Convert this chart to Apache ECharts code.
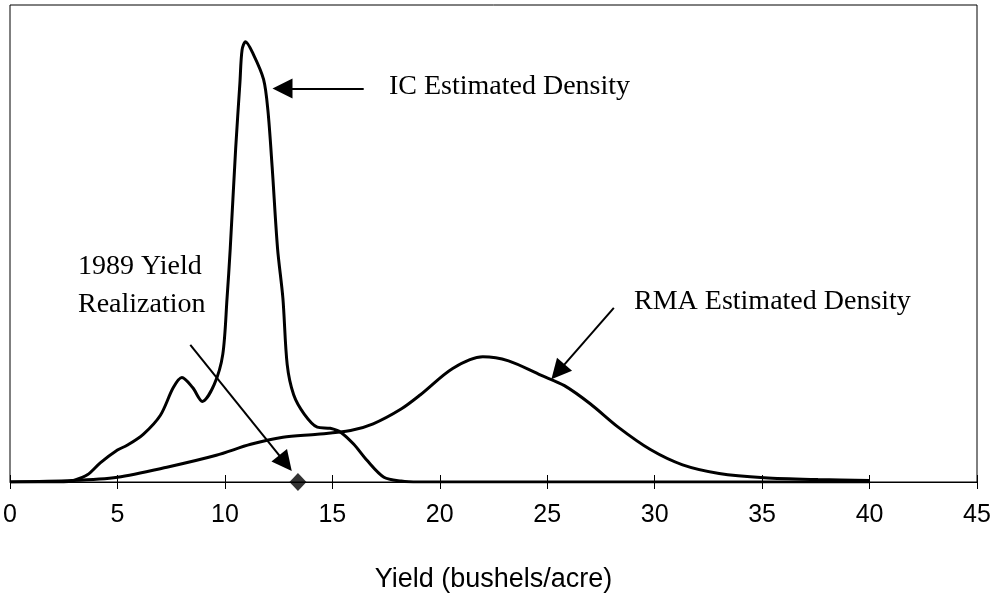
<!DOCTYPE html>
<html>
<head>
<meta charset="utf-8">
<script src="https://cdn.jsdelivr.net/npm/echarts@6/dist/echarts.min.js"></script>
<style>
  html, body { margin: 0; padding: 0; background: #fff; }
  #chart_view { width: 998px; height: 598px; }
</style>
</head>
<body>
<div id="chart_view"></div>
<script type="text/javascript">
  // IC estimated density (yield, relative height)
  var ic_x = [0, 2.5, 3.0, 3.6, 4.2, 5.0, 5.45, 6.2, 7.0, 7.6, 8.0, 8.5, 8.95, 9.5, 9.9, 10.1, 10.25, 10.5, 10.7, 10.8, 10.96, 11.33, 11.8, 12.0, 12.2, 12.45, 12.7, 12.9, 13.2, 13.7, 14.3, 14.9, 15.4, 16.0, 16.6, 17.4, 18.2, 19, 40];
  var ic_y = [0, 0, 0.004, 0.015, 0.04, 0.067, 0.077, 0.10, 0.14, 0.198, 0.219, 0.198, 0.169, 0.204, 0.267, 0.385, 0.49, 0.698, 0.8375, 0.906, 0.923, 0.896, 0.844, 0.78, 0.66, 0.49, 0.385, 0.246, 0.183, 0.142, 0.115, 0.1125, 0.104, 0.079, 0.046, 0.01, 0.002, 0, 0];
  // RMA estimated density
  var rma_x = [0, 2.9, 5.0, 7.3, 9.6, 11.2, 12.7, 14.3, 15.85, 16.9, 18.2, 19.1, 20.6, 22.0, 23.2, 24.7, 25.8, 27.0, 28.3, 29.8, 31.3, 33.0, 35.1, 37.6, 40];
  var rma_y = [0, 0.003, 0.01, 0.031, 0.056, 0.079, 0.094, 0.1, 0.108, 0.122, 0.153, 0.183, 0.238, 0.2625, 0.254, 0.224, 0.202, 0.164, 0.115, 0.068, 0.036, 0.018, 0.009, 0.005, 0.003];
  // 1989 realized yield
  var realization = [13.4, 0];
  var x_ticks = [0, 5, 10, 15, 20, 25, 30, 35, 40, 45];
  // annotation arrows [from, to]
  var ic_arrow = [[16.46, 0.825], [12.68, 0.825]];
  var yield_arrow = [[8.39, 0.2875], [12.82, 0.0396]];
  var rma_arrow = [[28.1, 0.365], [25.5, 0.231]];

  function pairs(xs, ys) {
    var out = [];
    for (var i = 0; i < xs.length; i++) out.push([xs[i], ys[i]]);
    return out;
  }
  function arrowLine(a) {
    return [{ coord: a[0] }, { coord: a[1] }];
  }

  var myChart = echarts.init(document.getElementById('chart_view'));
  var serif = '28px "Liberation Serif", "Times New Roman", serif';
  var option = {
    animation: false,
    grid: {
      left: 10, right: 21, top: 5, bottom: 113,
      show: true, borderColor: '#000', borderWidth: 1, backgroundColor: '#fff'
    },
    xAxis: [{
      type: 'value', min: 0, max: 45, interval: 5,
      splitLine: { show: false },
      axisLine: { lineStyle: { color: '#000', width: 1 } },
      axisTick: { inside: false, length: 7, lineStyle: { color: '#000' } },
      axisLabel: {
        margin: 21, color: '#000', fontSize: 25, fontFamily: 'Liberation Sans',
        formatter: function (v) { return x_ticks.indexOf(v) >= 0 ? String(v) : ''; }
      },
      name: 'Yield (bushels/acre)', nameLocation: 'middle', nameGap: 84,
      nameTextStyle: { color: '#000', fontSize: 27, fontFamily: 'Liberation Sans' }
    }, {
      type: 'value', min: 0, max: 45, interval: 5, position: 'bottom',
      splitLine: { show: false },
      axisLine: { show: false },
      axisTick: { inside: true, length: 7, lineStyle: { color: '#000' } },
      axisLabel: { show: false }
    }],
    yAxis: {
      type: 'value', min: 0, max: 1,
      show: false, splitLine: { show: false }
    },
    series: [{
      type: 'line', data: pairs(ic_x, ic_y), smooth: 0.3, showSymbol: false,
      lineStyle: { color: '#000', width: 3 }, z: 3
    }, {
      type: 'line', data: pairs(rma_x, rma_y), smooth: 0.3, showSymbol: false,
      lineStyle: { color: '#000', width: 3 }, z: 3
    }, {
      type: 'scatter', data: [realization], symbol: 'diamond', symbolSize: [17, 18],
      itemStyle: { color: '#000' }, z: 4,
      markLine: {
        silent: true, symbol: ['none', 'triangle'], symbolSize: 20,
        label: { show: false },
        lineStyle: { color: '#000', width: 2, type: 'solid' },
        data: [arrowLine(ic_arrow), arrowLine(yield_arrow), arrowLine(rma_arrow)]
      }
    }],
    graphic: [
      { type: 'text', x: 389, y: 87, style: { text: 'IC Estimated Density', font: serif, fill: '#000', textVerticalAlign: 'middle' } },
      { type: 'text', x: 78, y: 267, style: { text: '1989 Yield', font: serif, fill: '#000', textVerticalAlign: 'middle' } },
      { type: 'text', x: 78, y: 305, style: { text: 'Realization', font: serif, fill: '#000', textVerticalAlign: 'middle' } },
      { type: 'text', x: 634, y: 302, style: { text: 'RMA Estimated Density', font: serif, fill: '#000', textVerticalAlign: 'middle' } }
    ]
  };
  myChart.setOption(option);
</script>
</body>
</html>
